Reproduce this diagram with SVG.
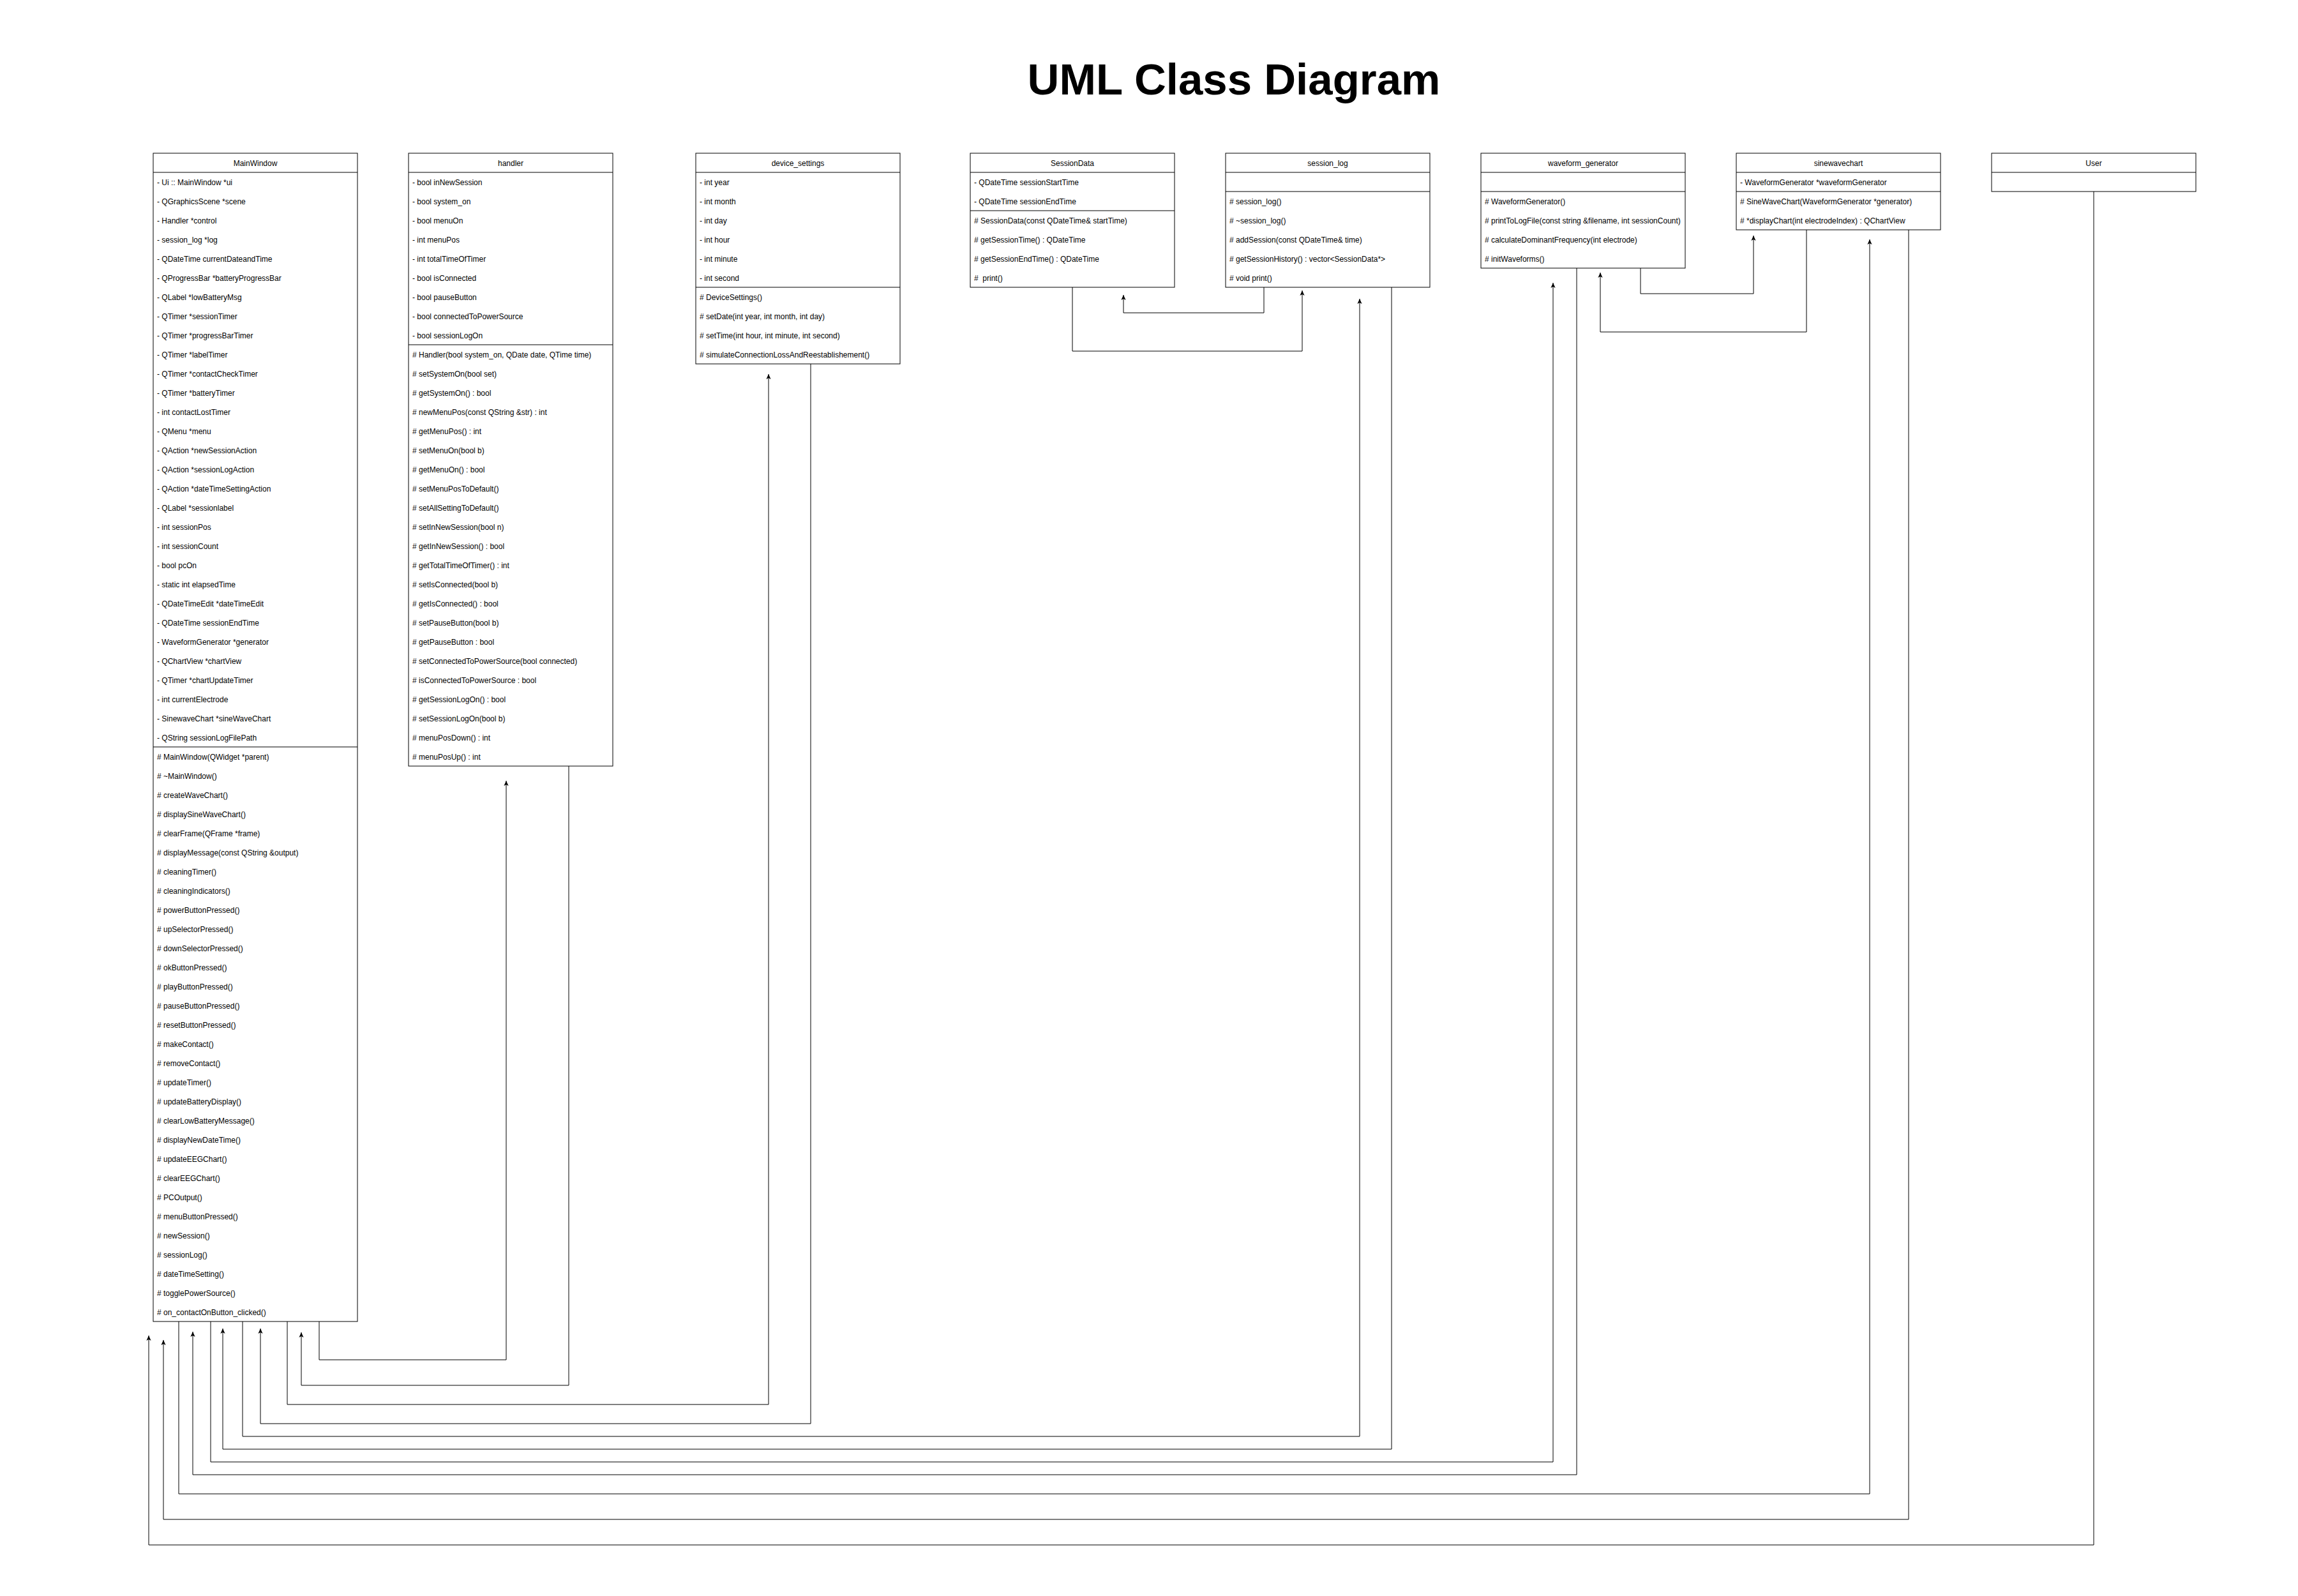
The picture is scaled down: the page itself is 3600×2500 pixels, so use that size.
<svg xmlns="http://www.w3.org/2000/svg" width="3600" height="2500" viewBox="0 0 3600 2500">
<style>
.box{fill:#fff;stroke:#000;stroke-width:1}
.sep{stroke:#000;stroke-width:1}
.t{font-family:"Liberation Sans",Arial,Helvetica,sans-serif;font-size:12px;fill:#000}
.h{text-anchor:middle}
.title{font-family:"Liberation Sans",Arial,Helvetica,sans-serif;font-size:69px;font-weight:bold;fill:#000;text-anchor:middle}
.conn{fill:none;stroke:#000;stroke-width:1;marker-end:url(#arr)}
</style>
<defs>
<marker id="arr" viewBox="0 0 10 10" refX="10" refY="5" markerWidth="8" markerHeight="8" orient="auto" markerUnits="userSpaceOnUse">
<path d="M0,0.5 L10,5 L0,9.5 L2.5,5 Z" fill="#000"/>
</marker>
</defs>
<rect x="0" y="0" width="3600" height="2500" fill="#fff"/>
<text class="title" x="1933" y="148">UML Class Diagram</text>

<g id="connectors">
<polyline class="conn" points="500,2070 500,2130 793,2130 793,1223"/>
<polyline class="conn" points="891,1200 891,2170 472,2170 472,2087"/>
<polyline class="conn" points="450,2070 450,2200 1204,2200 1204,586"/>
<polyline class="conn" points="1270,570 1270,2230 408,2230 408,2081"/>
<polyline class="conn" points="380,2070 380,2250 2130,2250 2130,468"/>
<polyline class="conn" points="2180,450 2180,2270 349,2270 349,2081"/>
<polyline class="conn" points="330,2070 330,2290 2433,2290 2433,443"/>
<polyline class="conn" points="2470,420 2470,2310 302,2310 302,2086"/>
<polyline class="conn" points="280,2070 280,2340 2929,2340 2929,375"/>
<polyline class="conn" points="2990,360 2990,2380 256,2380 256,2099"/>
<polyline class="conn" points="3280,300 3280,2420 233,2420 233,2092"/>
<polyline class="conn" points="1680,450 1680,550 2040,550 2040,455"/>
<polyline class="conn" points="1980,450 1980,490 1760,490 1760,462"/>
<polyline class="conn" points="2570,420 2570,460 2747,460 2747,369"/>
<polyline class="conn" points="2830,360 2830,520 2507,520 2507,427"/>
</g>

<g id="MainWindow">
<rect class="box" x="240" y="240" width="320" height="1830"/>
<line class="sep" x1="240" y1="270" x2="560" y2="270"/>
<line class="sep" x1="240" y1="1170" x2="560" y2="1170"/>
<text class="t h" x="400" y="259.5">MainWindow</text>
<text class="t" x="246" y="289.5">- Ui :: MainWindow *ui</text>
<text class="t" x="246" y="319.5">- QGraphicsScene *scene</text>
<text class="t" x="246" y="349.5">- Handler *control</text>
<text class="t" x="246" y="379.5">- session_log *log</text>
<text class="t" x="246" y="409.5">- QDateTime currentDateandTime</text>
<text class="t" x="246" y="439.5">- QProgressBar *batteryProgressBar</text>
<text class="t" x="246" y="469.5">- QLabel *lowBatteryMsg</text>
<text class="t" x="246" y="499.5">- QTimer *sessionTimer</text>
<text class="t" x="246" y="529.5">- QTimer *progressBarTimer</text>
<text class="t" x="246" y="559.5">- QTimer *labelTimer</text>
<text class="t" x="246" y="589.5">- QTimer *contactCheckTimer</text>
<text class="t" x="246" y="619.5">- QTimer *batteryTimer</text>
<text class="t" x="246" y="649.5">- int contactLostTimer</text>
<text class="t" x="246" y="679.5">- QMenu *menu</text>
<text class="t" x="246" y="709.5">- QAction *newSessionAction</text>
<text class="t" x="246" y="739.5">- QAction *sessionLogAction</text>
<text class="t" x="246" y="769.5">- QAction *dateTimeSettingAction</text>
<text class="t" x="246" y="799.5">- QLabel *sessionlabel</text>
<text class="t" x="246" y="829.5">- int sessionPos</text>
<text class="t" x="246" y="859.5">- int sessionCount</text>
<text class="t" x="246" y="889.5">- bool pcOn</text>
<text class="t" x="246" y="919.5">- static int elapsedTime</text>
<text class="t" x="246" y="949.5">- QDateTimeEdit *dateTimeEdit</text>
<text class="t" x="246" y="979.5">- QDateTime sessionEndTime</text>
<text class="t" x="246" y="1009.5">- WaveformGenerator *generator</text>
<text class="t" x="246" y="1039.5">- QChartView *chartView</text>
<text class="t" x="246" y="1069.5">- QTimer *chartUpdateTimer</text>
<text class="t" x="246" y="1099.5">- int currentElectrode</text>
<text class="t" x="246" y="1129.5">- SinewaveChart *sineWaveChart</text>
<text class="t" x="246" y="1159.5">- QString sessionLogFilePath</text>
<text class="t" x="246" y="1189.5"># MainWindow(QWidget *parent)</text>
<text class="t" x="246" y="1219.5"># ~MainWindow()</text>
<text class="t" x="246" y="1249.5"># createWaveChart()</text>
<text class="t" x="246" y="1279.5"># displaySineWaveChart()</text>
<text class="t" x="246" y="1309.5"># clearFrame(QFrame *frame)</text>
<text class="t" x="246" y="1339.5"># displayMessage(const QString &amp;output)</text>
<text class="t" x="246" y="1369.5"># cleaningTimer()</text>
<text class="t" x="246" y="1399.5"># cleaningIndicators()</text>
<text class="t" x="246" y="1429.5"># powerButtonPressed()</text>
<text class="t" x="246" y="1459.5"># upSelectorPressed()</text>
<text class="t" x="246" y="1489.5"># downSelectorPressed()</text>
<text class="t" x="246" y="1519.5"># okButtonPressed()</text>
<text class="t" x="246" y="1549.5"># playButtonPressed()</text>
<text class="t" x="246" y="1579.5"># pauseButtonPressed()</text>
<text class="t" x="246" y="1609.5"># resetButtonPressed()</text>
<text class="t" x="246" y="1639.5"># makeContact()</text>
<text class="t" x="246" y="1669.5"># removeContact()</text>
<text class="t" x="246" y="1699.5"># updateTimer()</text>
<text class="t" x="246" y="1729.5"># updateBatteryDisplay()</text>
<text class="t" x="246" y="1759.5"># clearLowBatteryMessage()</text>
<text class="t" x="246" y="1789.5"># displayNewDateTime()</text>
<text class="t" x="246" y="1819.5"># updateEEGChart()</text>
<text class="t" x="246" y="1849.5"># clearEEGChart()</text>
<text class="t" x="246" y="1879.5"># PCOutput()</text>
<text class="t" x="246" y="1909.5"># menuButtonPressed()</text>
<text class="t" x="246" y="1939.5"># newSession()</text>
<text class="t" x="246" y="1969.5"># sessionLog()</text>
<text class="t" x="246" y="1999.5"># dateTimeSetting()</text>
<text class="t" x="246" y="2029.5"># togglePowerSource()</text>
<text class="t" x="246" y="2059.5"># on_contactOnButton_clicked()</text>
</g>

<g id="handler">
<rect class="box" x="640" y="240" width="320" height="960"/>
<line class="sep" x1="640" y1="270" x2="960" y2="270"/>
<line class="sep" x1="640" y1="540" x2="960" y2="540"/>
<text class="t h" x="800" y="259.5">handler</text>
<text class="t" x="646" y="289.5">- bool inNewSession</text>
<text class="t" x="646" y="319.5">- bool system_on</text>
<text class="t" x="646" y="349.5">- bool menuOn</text>
<text class="t" x="646" y="379.5">- int menuPos</text>
<text class="t" x="646" y="409.5">- int totalTimeOfTimer</text>
<text class="t" x="646" y="439.5">- bool isConnected</text>
<text class="t" x="646" y="469.5">- bool pauseButton</text>
<text class="t" x="646" y="499.5">- bool connectedToPowerSource</text>
<text class="t" x="646" y="529.5">- bool sessionLogOn</text>
<text class="t" x="646" y="559.5"># Handler(bool system_on, QDate date, QTime time)</text>
<text class="t" x="646" y="589.5"># setSystemOn(bool set)</text>
<text class="t" x="646" y="619.5"># getSystemOn() : bool</text>
<text class="t" x="646" y="649.5"># newMenuPos(const QString &amp;str) : int</text>
<text class="t" x="646" y="679.5"># getMenuPos() : int</text>
<text class="t" x="646" y="709.5"># setMenuOn(bool b)</text>
<text class="t" x="646" y="739.5"># getMenuOn() : bool</text>
<text class="t" x="646" y="769.5"># setMenuPosToDefault()</text>
<text class="t" x="646" y="799.5"># setAllSettingToDefault()</text>
<text class="t" x="646" y="829.5"># setInNewSession(bool n)</text>
<text class="t" x="646" y="859.5"># getInNewSession() : bool</text>
<text class="t" x="646" y="889.5"># getTotalTimeOfTimer() : int</text>
<text class="t" x="646" y="919.5"># setIsConnected(bool b)</text>
<text class="t" x="646" y="949.5"># getIsConnected() : bool</text>
<text class="t" x="646" y="979.5"># setPauseButton(bool b)</text>
<text class="t" x="646" y="1009.5"># getPauseButton : bool</text>
<text class="t" x="646" y="1039.5"># setConnectedToPowerSource(bool connected)</text>
<text class="t" x="646" y="1069.5"># isConnectedToPowerSource : bool</text>
<text class="t" x="646" y="1099.5"># getSessionLogOn() : bool</text>
<text class="t" x="646" y="1129.5"># setSessionLogOn(bool b)</text>
<text class="t" x="646" y="1159.5"># menuPosDown() : int</text>
<text class="t" x="646" y="1189.5"># menuPosUp() : int</text>
</g>

<g id="device_settings">
<rect class="box" x="1090" y="240" width="320" height="330"/>
<line class="sep" x1="1090" y1="270" x2="1410" y2="270"/>
<line class="sep" x1="1090" y1="450" x2="1410" y2="450"/>
<text class="t h" x="1250" y="259.5">device_settings</text>
<text class="t" x="1096" y="289.5">- int year</text>
<text class="t" x="1096" y="319.5">- int month</text>
<text class="t" x="1096" y="349.5">- int day</text>
<text class="t" x="1096" y="379.5">- int hour</text>
<text class="t" x="1096" y="409.5">- int minute</text>
<text class="t" x="1096" y="439.5">- int second</text>
<text class="t" x="1096" y="469.5"># DeviceSettings()</text>
<text class="t" x="1096" y="499.5"># setDate(int year, int month, int day)</text>
<text class="t" x="1096" y="529.5"># setTime(int hour, int minute, int second)</text>
<text class="t" x="1096" y="559.5"># simulateConnectionLossAndReestablishement()</text>
</g>

<g id="SessionData">
<rect class="box" x="1520" y="240" width="320" height="210"/>
<line class="sep" x1="1520" y1="270" x2="1840" y2="270"/>
<line class="sep" x1="1520" y1="330" x2="1840" y2="330"/>
<text class="t h" x="1680" y="259.5">SessionData</text>
<text class="t" x="1526" y="289.5">- QDateTime sessionStartTime</text>
<text class="t" x="1526" y="319.5">- QDateTime sessionEndTime</text>
<text class="t" x="1526" y="349.5"># SessionData(const QDateTime&amp; startTime)</text>
<text class="t" x="1526" y="379.5"># getSessionTime() : QDateTime</text>
<text class="t" x="1526" y="409.5"># getSessionEndTime() : QDateTime</text>
<text class="t" x="1526" y="439.5" xml:space="preserve">#  print()</text>
</g>

<g id="session_log">
<rect class="box" x="1920" y="240" width="320" height="210"/>
<line class="sep" x1="1920" y1="270" x2="2240" y2="270"/>
<line class="sep" x1="1920" y1="300" x2="2240" y2="300"/>
<text class="t h" x="2080" y="259.5">session_log</text>
<text class="t" x="1926" y="319.5"># session_log()</text>
<text class="t" x="1926" y="349.5"># ~session_log()</text>
<text class="t" x="1926" y="379.5"># addSession(const QDateTime&amp; time)</text>
<text class="t" x="1926" y="409.5"># getSessionHistory() : vector&lt;SessionData*&gt;</text>
<text class="t" x="1926" y="439.5"># void print()</text>
</g>

<g id="waveform_generator">
<rect class="box" x="2320" y="240" width="320" height="180"/>
<line class="sep" x1="2320" y1="270" x2="2640" y2="270"/>
<line class="sep" x1="2320" y1="300" x2="2640" y2="300"/>
<text class="t h" x="2480" y="259.5">waveform_generator</text>
<text class="t" x="2326" y="319.5"># WaveformGenerator()</text>
<text class="t" x="2326" y="349.5"># printToLogFile(const string &amp;filename, int sessionCount)</text>
<text class="t" x="2326" y="379.5"># calculateDominantFrequency(int electrode)</text>
<text class="t" x="2326" y="409.5"># initWaveforms()</text>
</g>

<g id="sinewavechart">
<rect class="box" x="2720" y="240" width="320" height="120"/>
<line class="sep" x1="2720" y1="270" x2="3040" y2="270"/>
<line class="sep" x1="2720" y1="300" x2="3040" y2="300"/>
<text class="t h" x="2880" y="259.5">sinewavechart</text>
<text class="t" x="2726" y="289.5">- WaveformGenerator *waveformGenerator</text>
<text class="t" x="2726" y="319.5"># SineWaveChart(WaveformGenerator *generator)</text>
<text class="t" x="2726" y="349.5"># *displayChart(int electrodeIndex) : QChartView</text>
</g>

<g id="User">
<rect class="box" x="3120" y="240" width="320" height="60"/>
<line class="sep" x1="3120" y1="270" x2="3440" y2="270"/>
<text class="t h" x="3280" y="259.5">User</text>
</g>
</svg>
